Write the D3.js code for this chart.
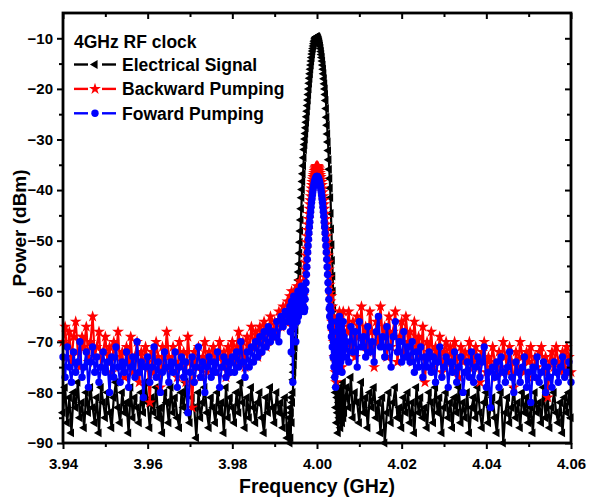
<!DOCTYPE html>
<html>
<head>
<meta charset="utf-8">
<script src="https://cdn.jsdelivr.net/npm/d3@7"></script>
<style>
  body { margin: 0; background: #fff; }
  svg text { font-family: "Liberation Sans", Arial, sans-serif; font-weight: bold; }
</style>
</head>
<body>
<div class="chart"></div>
<script>
// sweep segments: coarse / fine around the carrier / coarse
var segStart = [3.94, 3.9935, 4.007];
var segStep = [0.0005, 0.0001, 0.0005];

var xTicks = [3.94, 3.96, 3.98, 4.00, 4.02, 4.04, 4.06];
var yTicks = [-90, -80, -70, -60, -50, -40, -30, -20, -10];
var seriesNames = ["Electrical Signal", "Backward Pumping", "Foward Pumping"];

// Electrical signal (dBm)
var elecL = [-84,-79,-86,-81,-88,-80,-83,-78,-85,-82,
  -87,-80,-84,-79,-83,-86,-81,-88,-79,-82,
  -85,-80,-84,-87,-81,-78,-83,-86,-80,-84,
  -82,-88,-79,-85,-81,-83,-86,-80,-84,-78,
  -82,-87,-81,-84,-79,-85,-83,-88,-80,-82,
  -86,-79,-84,-81,-85,-87,-80,-83,-78,-84,
  -86,-81,-83,-89,-80,-85,-82,-79,-84,-87,
  -81,-83,-86,-80,-84,-82,-88,-79,-85,-81,
  -83,-86,-80,-84,-78,-82,-87,-81,-85,-79,
  -83,-86,-82,-80,-85,-88,-81,-84,-79,-83,
  -86,-80,-84,-82,-87,-81,-89];
var elecP = [-85,-90,-83,-89,-84,-81,-86,-82,-80,
  -77.5,-76.0,-74.5,-72.8,-71.1,-69.4,-67.7,-66.0,-64.3,-62.6,-61.0,-59.4,-57.8,-56.2,
  -54.6,-52.5,-50.3,-48.1,-45.9,-43.7,
  -41.5,-39.9,-38.3,-36.8,-35.2,-33.6,
  -32.0,-31.0,-29.9,-28.8,-27.7,-26.6,-25.5,-24.4,-23.3,
  -22.2,-21.1,-20.0,-18.9,-17.9,-17.0,-16.1,-15.3,-14.5,-13.8,-13.1,-12.5,-12.0,-11.5,-11.1,-10.7,-10.4,-10.1,-9.9,-9.8,-9.7,
  -9.7,
  -9.7,-9.8,-10.0,-10.2,-10.4,-10.7,-11.1,-11.5,-12.0,-12.6,-13.2,-13.8,-14.5,-15.3,-16.1,-17.0,-18.0,-19.0,-20.0,-21.1,-22.3,
  -23.9,-25.6,-27.2,-28.9,-30.5,-32.2,
  -34.0,-35.9,-37.7,-39.6,-41.5,
  -44.6,-47.7,-50.8,-53.9,-57.0,-60.0,
  -63.4,-66.8,-70.2,-73.6,-77.0,
  -80,-83,-79,-86,-81,-84,-88,-80,-82,-85,-79,-83,-87,-81,-84,-80,-86,-82,-78,-85,-81,-84];
var elecR = [-79,-83,-77,-85,-80,-82,-86,-78,-84,-81,
  -87,-80,-83,-79,-85,-82,-88,-81,-90,-84,
  -80,-86,-82,-79,-85,-83,-87,-81,-84,-80,
  -86,-82,-88,-79,-84,-81,-85,-83,-87,-80,
  -82,-86,-79,-84,-81,-88,-83,-80,-85,-82,
  -87,-81,-84,-79,-86,-82,-85,-80,-88,-83,
  -81,-85,-79,-84,-87,-82,-80,-86,-83,-81,
  -85,-88,-82,-80,-90,-84,-81,-86,-83,-79,
  -85,-82,-87,-80,-84,-81,-86,-83,-88,-80,
  -84,-82,-86,-79,-85,-81,-87,-83,-80,-84,
  -86,-82,-88,-81,-84,-80,-85];

// Backward pumping (dBm)
var backL = [-70,-67,-73,-68,-74,-69,-66,-72,-75,-69,
  -71,-67,-74,-70,-65,-73,-71,-68,-75,-72,
  -69,-74,-71,-76,-70,-73,-68,-75,-72,-77,
  -71,-74,-69,-76,-73,-70,-78,-72,-75,-71,
  -74,-82,-72,-76,-70,-73,-79,-71,-75,-68,
  -73,-76,-71,-74,-77,-70,-75,-72,-78,-69,
  -74,-83,-72,-75,-71,-77,-73,-70,-76,-72,
  -74,-71,-76,-73,-70,-75,-72,-77,-71,-73,
  -70,-74,-71,-68,-73,-70,-75,-69,-72,-67,
  -71,-68,-73,-67,-70,-66,-71,-68,-65,-69,
  -66,-68,-64,-67,-63,-66,-62];
var backP = [-64,-61,-66,-62,-65,-60,-63,-67,-61,-64,-62,-66,-60,-63,-65,-61,-64,-62,-59,-63,-61,-64,-60,-62,-58,-61,-59,-62,-60,-62,-61,-60,-61,
  -61.9,-60.3,-58.7,-57.2,-55.7,-54.3,-52.9,-51.6,-50.3,-49.1,-47.9,-46.8,-45.7,-44.7,-43.7,-42.8,
  -42.0,-41.2,-40.4,-39.7,-39.0,-38.4,-37.9,-37.4,-37.0,-36.6,-36.2,-35.9,-35.7,-35.5,-35.4,-35.3,
  -35.3,
  -35.3,-35.4,-35.5,-35.7,-35.9,-36.2,-36.6,-37.0,-37.4,-37.9,-38.4,-39.0,-39.7,-40.4,-41.2,-42.0,
  -42.8,-43.7,-44.7,-45.7,-46.8,-47.9,-49.1,-50.3,-51.6,-52.9,-54.3,-55.7,-57.2,-58.7,-60.3,
  -62,-64,-61,-66,-63,-68,-65,-70,-67,-73,-69,-76,-71,-78,
  -67,-72,-65,-70,-74,-66,-69,-64,-71,-68,-73,-66,-70,-75,-67,-69,-64,-72,-68,-70];
var backR = [-68,-64,-71,-66,-73,-65,-69,-63,-70,-67,
  -72,-64,-68,-75,-66,-70,-63,-69,-67,-73,
  -65,-71,-68,-64,-74,-69,-66,-72,-65,-70,
  -68,-74,-66,-71,-69,-73,-67,-78,-70,-72,
  -68,-75,-71,-73,-69,-76,-72,-70,-74,-71,
  -75,-70,-73,-77,-71,-74,-72,-76,-70,-73,
  -75,-71,-74,-78,-72,-70,-76,-73,-75,-71,
  -74,-77,-72,-75,-70,-73,-76,-71,-74,-79,
  -72,-75,-70,-73,-76,-72,-74,-71,-77,-73,
  -75,-72,-71,-76,-73,-81,-74,-72,-75,-71,
  -74,-76,-72,-75,-71,-73,-76];

// Foward pumping (dBm)
var fwdL = [-73,-77,-71,-75,-78,-72,-76,-74,-70,-77,
  -75,-72,-79,-74,-71,-76,-73,-78,-75,-72,
  -76,-74,-80,-73,-77,-71,-75,-78,-74,-76,
  -72,-79,-75,-73,-77,-70,-76,-74,-81,-75,
  -73,-78,-75,-71,-77,-74,-80,-76,-72,-75,
  -78,-74,-76,-72,-79,-75,-73,-77,-74,-84,
  -76,-73,-78,-75,-71,-77,-74,-80,-75,-73,
  -77,-74,-76,-72,-79,-75,-73,-77,-74,-76,
  -73,-76,-72,-75,-70,-74,-77,-72,-75,-71,
  -74,-70,-73,-69,-72,-68,-71,-67,-70,-68,
  -69,-66,-70,-65,-67,-64,-66];
var fwdP = [-65,-63,-68,-64,-72,-62,-66,-63,-78,-64,-61,-67,-63,-65,-62,-70,-64,-61,-66,-63,-60,-65,-62,-64,-60,-63,-61,-62,-59,-64,-61,-62,-60,-63,-61,-64,
  -63.4,-61.6,-59.9,-58.3,-56.7,-55.2,-53.7,-52.3,-51.0,-49.7,-48.5,-47.3,-46.3,-45.2,-44.3,
  -43.4,-42.5,-41.8,-41.1,-40.4,-39.8,-39.3,-38.8,-38.4,-38.1,-37.8,-37.6,-37.4,-37.3,
  -37.3,
  -37.3,-37.4,-37.6,-37.8,-38.1,-38.4,-38.8,-39.3,-39.8,-40.4,-41.1,-41.8,-42.5,-43.4,-44.3,
  -45.2,-46.3,-47.3,-48.5,-49.7,-51.0,-52.3,-53.7,-55.2,-56.7,-58.3,-59.9,-61.6,-63.4,
  -65,-63,-67,-64,-69,-66,-71,-68,-73,-70,-75,-72,-77,-74,-79,-76,
  -70,-66,-73,-68,-75,-67,-71,-65,-72,-69,-74,-67,-70,-76,-68,-72,-66,-71,-69,-73];
var fwdR = [-70,-74,-67,-72,-68,-75,-66,-71,-69,-73,
  -67,-72,-70,-74,-68,-65,-71,-69,-73,-67,
  -71,-75,-69,-66,-72,-70,-74,-68,-73,-71,
  -74,-70,-76,-72,-75,-71,-77,-73,-75,-72,
  -76,-73,-78,-74,-71,-77,-75,-73,-79,-74,
  -76,-72,-78,-75,-73,-80,-76,-74,-77,-72,
  -78,-75,-73,-77,-74,-71,-79,-76,-83,-75,
  -77,-74,-79,-73,-76,-78,-75,-72,-77,-80,
  -74,-76,-78,-75,-73,-79,-76,-82,-75,-77,
  -73,-78,-76,-74,-80,-75,-77,-79,-74,-76,
  -78,-75,-73,-77,-76,-74,-78];

var width = 589;
var height = 498;
var margin = {left: 63, right: 18, top: 13, bottom: 55};

// frequency of each sample, segment by segment
var segLen = [elecL.length, elecP.length, elecR.length];
var freqs = [];
segLen.forEach(function (n, s) {
  d3.range(n).forEach(function (i) { freqs.push(segStart[s] + i * segStep[s]); });
});

var series = [
  {name: seriesNames[0], color: "#000000", values: elecL.concat(elecP, elecR), marker: "tri"},
  {name: seriesNames[1], color: "#ff0000", values: backL.concat(backP, backR), marker: "star"},
  {name: seriesNames[2], color: "#0000ff", values: fwdL.concat(fwdP, fwdR), marker: "dot"}
];

var xScale = d3.scaleLinear()
               .domain([3.94, 4.06])
               .range([margin.left, width - margin.right]);
var yScale = d3.scaleLinear()
               .domain([-90, -5])
               .range([height - margin.bottom, margin.top]);

var svg = d3.select(".chart")
            .append("svg")
            .attr("width", width)
            .attr("height", height);

var triPath = d3.symbol().type(d3.symbolTriangle).size(34)();
var starPath = d3.symbol().type(d3.symbolStar).size(44)();

function drawMarker(g, type, color, x, y) {
  if (type === "tri") {
    g.append("path").attr("d", triPath).attr("fill", color)
     .attr("transform", "translate(" + x + "," + y + ") rotate(-90)");
  } else if (type === "star") {
    g.append("path").attr("d", starPath).attr("fill", color)
     .attr("transform", "translate(" + x + "," + y + ")");
  } else {
    g.append("circle").attr("cx", x).attr("cy", y).attr("r", 3.7).attr("fill", color);
  }
}

// data
var line = d3.line()
             .x(function (d, i) { return xScale(freqs[i]); })
             .y(function (d) { return yScale(d); });

series.forEach(function (s) {
  var g = svg.append("g").attr("class", "series");
  g.append("path")
   .datum(s.values)
   .attr("d", line)
   .attr("fill", "none")
   .attr("stroke", s.color)
   .attr("stroke-width", 2.2);
  s.values.forEach(function (v, i) {
    drawMarker(g, s.marker, s.color, xScale(freqs[i]), yScale(v));
  });
});

// axes
var xMinor = [3.95, 3.97, 3.99, 4.01, 4.03, 4.05];
var yMinor = [-85, -75, -65, -55, -45, -35, -25, -15];

function styleAxis(g) {
  g.select(".domain").remove();
  g.selectAll(".tick line").attr("stroke", "#000").attr("stroke-width", 2);
  g.selectAll(".tick text").style("font-size", "15px").attr("fill", "#000");
}

svg.append("g")
   .attr("transform", "translate(0," + (height - margin.bottom) + ")")
   .call(d3.axisBottom(xScale).tickValues(xTicks).tickFormat(d3.format(".2f")).tickSize(6).tickPadding(9))
   .call(styleAxis);
svg.append("g")
   .attr("transform", "translate(0," + (height - margin.bottom) + ")")
   .call(d3.axisBottom(xScale).tickValues(xMinor).tickFormat("").tickSize(4))
   .call(styleAxis);
svg.append("g")
   .attr("transform", "translate(0," + margin.top + ")")
   .call(d3.axisTop(xScale).tickValues(xTicks).tickFormat("").tickSize(-6))
   .call(styleAxis);
svg.append("g")
   .attr("transform", "translate(0," + margin.top + ")")
   .call(d3.axisTop(xScale).tickValues(xMinor).tickFormat("").tickSize(-4))
   .call(styleAxis);

svg.append("g")
   .attr("transform", "translate(" + margin.left + ",0)")
   .call(d3.axisLeft(yScale).tickValues(yTicks).tickSize(6).tickPadding(4))
   .call(styleAxis);
svg.append("g")
   .attr("transform", "translate(" + margin.left + ",0)")
   .call(d3.axisLeft(yScale).tickValues(yMinor).tickFormat("").tickSize(4))
   .call(styleAxis);
svg.append("g")
   .attr("transform", "translate(" + (width - margin.right) + ",0)")
   .call(d3.axisRight(yScale).tickValues(yTicks).tickFormat("").tickSize(-6))
   .call(styleAxis);
svg.append("g")
   .attr("transform", "translate(" + (width - margin.right) + ",0)")
   .call(d3.axisRight(yScale).tickValues(yMinor).tickFormat("").tickSize(-4))
   .call(styleAxis);

// frame
svg.append("rect")
   .attr("x", margin.left)
   .attr("y", margin.top)
   .attr("width", width - margin.left - margin.right)
   .attr("height", height - margin.top - margin.bottom)
   .attr("fill", "none")
   .attr("stroke", "#000")
   .attr("stroke-width", 2.8);

// axis titles
svg.append("text")
   .attr("x", (margin.left + width - margin.right) / 2)
   .attr("y", 493)
   .attr("text-anchor", "middle")
   .style("font-size", "19.5px")
   .text("Frequency (GHz)");
svg.append("text")
   .attr("transform", "translate(26," + ((margin.top + height - margin.bottom) / 2) + ") rotate(-90)")
   .attr("text-anchor", "middle")
   .style("font-size", "19px")
   .text("Power (dBm)");

// legend
var legend = svg.append("g");
legend.append("text")
      .attr("x", 74)
      .attr("y", 48)
      .style("font-size", "17.5px")
      .text("4GHz RF clock");
series.forEach(function (s, i) {
  var ly = 64.5 + i * 24.4;
  legend.append("line").attr("x1", 74).attr("x2", 88).attr("y1", ly).attr("y2", ly)
        .attr("stroke", s.color).attr("stroke-width", 2.4);
  legend.append("line").attr("x1", 102).attr("x2", 116).attr("y1", ly).attr("y2", ly)
        .attr("stroke", s.color).attr("stroke-width", 2.4);
  drawMarker(legend, s.marker, s.color, 95, ly);
  legend.append("text")
        .attr("x", 122)
        .attr("y", ly + 6.3)
        .style("font-size", "17.5px")
        .text(s.name);
});
</script>
</body>
</html>
